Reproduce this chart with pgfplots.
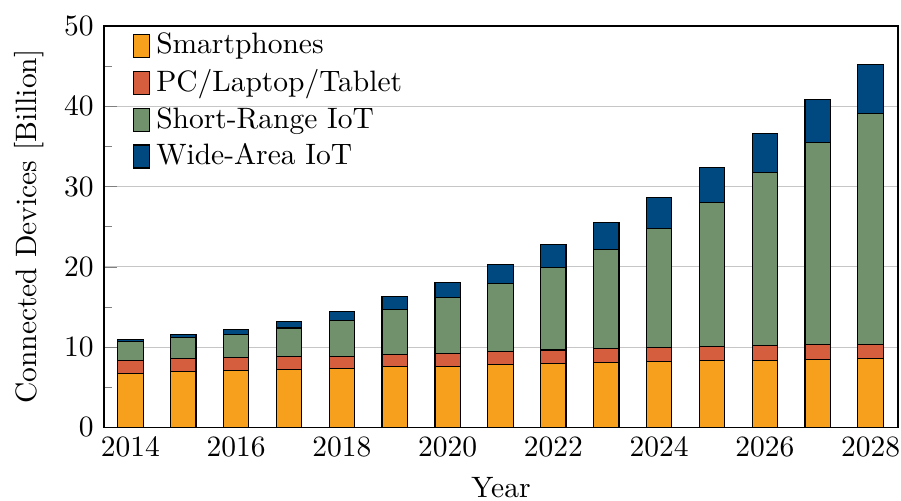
\documentclass[border=0pt]{standalone}
\usepackage{pgfplots}
\pgfplotsset{compat=1.18}
\definecolor{cOrange}{RGB}{247,160,30}
\definecolor{cRed}{RGB}{213,94,62}
\definecolor{cGreen}{RGB}{112,145,108}
\definecolor{cBlue}{RGB}{0,72,128}
\begin{document}
\begin{tikzpicture}
\begin{axis}[
  scale only axis,
  width=269.2pt, height=136.1pt,
  ybar stacked,
  bar width=0.48,
  xmin=2013.5, xmax=2028.52,
  ymin=0, ymax=50,
  xtick={2014,2016,...,2028},
  xticklabel style={/pgf/number format/1000 sep={}},
  x tick style={draw=none},
  ytick={0,10,...,50},
  minor y tick num=1,
  ytick pos=left,
  ymajorgrids,
  grid style={gray!45},
  xlabel={Year},
  ylabel={Connected Devices [Billion]},
  legend style={draw=none, fill=none, at={(0.025,1)}, anchor=north west, yshift=1.8pt, row sep=-0.2pt},
  legend cell align=left,
  legend image code/.code={\draw[#1] (0pt,-3.9pt) rectangle (5.4pt,3.9pt);},
]
\addplot[fill=cOrange, draw=black] coordinates {(2014,6.76) (2015,6.97) (2016,7.10) (2017,7.22) (2018,7.34) (2019,7.55) (2020,7.59) (2021,7.88) (2022,8.00) (2023,8.13) (2024,8.22) (2025,8.34) (2026,8.38) (2027,8.46) (2028,8.55)};
\addplot[fill=cRed, draw=black] coordinates {(2014,1.58) (2015,1.62) (2016,1.61) (2017,1.62) (2018,1.54) (2019,1.54) (2020,1.62) (2021,1.58) (2022,1.63) (2023,1.66) (2024,1.70) (2025,1.74) (2026,1.79) (2027,1.83) (2028,1.82)};
\addplot[fill=cGreen, draw=black] coordinates {(2014,2.32) (2015,2.61) (2016,2.91) (2017,3.53) (2018,4.44) (2019,5.58) (2020,6.95) (2021,8.49) (2022,10.29) (2023,12.41) (2024,14.88) (2025,17.92) (2026,21.57) (2027,25.15) (2028,28.76)};
\addplot[fill=cBlue, draw=black] coordinates {(2014,0.29) (2015,0.33) (2016,0.58) (2017,0.87) (2018,1.12) (2019,1.61) (2020,1.90) (2021,2.30) (2022,2.88) (2023,3.30) (2024,3.87) (2025,4.40) (2026,4.86) (2027,5.43) (2028,6.02)};
\legend{Smartphones, PC/Laptop/Tablet, Short-Range IoT, Wide-Area IoT}
\end{axis}
\pgfresetboundingbox
\useasboundingbox ([xshift=-35.25pt,yshift=-24.8pt]current axis.south west) rectangle ([xshift=1pt,yshift=8.8pt]current axis.north east);
\end{tikzpicture}
\end{document}
